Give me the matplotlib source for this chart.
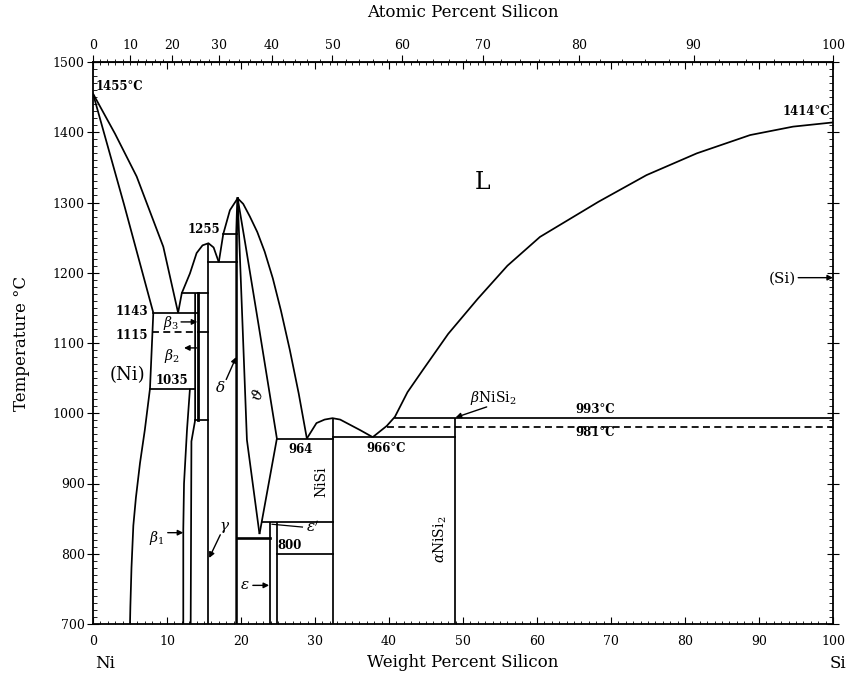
import numpy as np
import matplotlib.pyplot as plt
from matplotlib.ticker import MultipleLocator, FixedLocator

plt.rcParams['font.family'] = 'DejaVu Serif'
plt.rcParams['mathtext.fontset'] = 'dejavuserif'

# ---- phase boundaries (wt% Si, deg C) ----
liq_ni_w = [0, 2.97, 5.9, 9.5, 11.5]
liq_ni_t = [1455, 1398, 1337, 1237, 1143]
sol_ni_w = [0, 4.2, 8.15]
sol_ni_t = [1455, 1297, 1143]
solvus_ni_w = [8.15, 7.7, 7.0, 6.35, 5.8, 5.45, 5.2, 5.05, 5.0]
solvus_ni_t = [1143, 1035, 976, 929, 880, 840, 780, 725, 700]

liq_gam_w = [11.5, 12.0, 13.1, 14.0, 14.8, 15.6, 16.3, 17.0]
liq_gam_t = [1143, 1171, 1199, 1228, 1239, 1242, 1236, 1215]
liq_del_w = [17.0, 17.6, 18.5, 19.55]
liq_del_t = [1215, 1255, 1289, 1306]
liq_theta_w = [19.55, 20.3, 21.2, 22.2, 23.2, 24.3, 25.4, 26.6, 27.8, 28.9]
liq_theta_t = [1306, 1298, 1280, 1258, 1230, 1192, 1146, 1090, 1028, 964]

beta1_left_w = [13.1, 12.7, 12.3, 12.2, 12.2]
beta1_left_t = [1035, 976, 900, 834, 700]
beta_right_w = [13.8, 13.8, 13.3, 13.2]
beta_right_t = [1171, 990, 960, 700]
beta_band_w = [14.25, 14.25]
beta_band_t = [1171, 990]

gamma_w = [15.6, 15.6]
gamma_t = [1242, 700]
delta_w = [19.55, 19.4, 19.4]
delta_t = [1306, 1255, 700]
theta_left_w = [19.55, 20.2, 20.8, 22.5]
theta_left_t = [1306, 1128, 962, 828]
theta_right_w = [19.55, 20.6, 22.34, 24.85, 22.5]
theta_right_t = [1306, 1240, 1128, 964, 828]

eps_w = [23.9, 24.8]
eps_top = 845
nisi_w = 32.37
nisi2_w = 48.9
dome_w = [28.9, 30.2, 31.3, 32.37, 33.4, 34.3, 36.1, 37.8]
dome_t = [964, 986, 991, 993, 991, 986, 976, 966]
liq_si_w = [37.8, 39.7, 40.8, 42.5, 44.6, 48, 52, 56, 60.4, 68.3, 74.8, 81.6, 88.8, 94.6, 100]
liq_si_t = [966, 982, 995, 1030, 1062, 1113, 1163, 1210, 1251, 1301, 1339, 1370, 1396, 1408, 1414]

# invariant lines: (temperature, wt start, wt end)
iso_t = [1171, 1143, 1115, 1035, 990, 1255, 1215, 964, 966, 845, 823, 800, 993]
iso_w0 = [12.0, 8.15, 14.2, 7.7, 13.8, 17.6, 15.6, 24.85, 32.37, 22.8, 19.4, 24.8, 40.8]
iso_w1 = [15.6, 14.2, 15.6, 13.8, 15.6, 19.4, 19.4, 32.37, 48.9, 32.37, 23.9, 32.37, 100]
dash_t = [1115, 981]
dash_w0 = [8.0, 39.7]
dash_w1 = [14.2, 100]

M_NI, M_SI = 58.6934, 28.0855


def wt2at(w):
    w = np.clip(np.asarray(w, dtype=float), 0, 100)
    a = w / M_SI
    return 100 * a / (a + (100 - w) / M_NI)


def at2wt(a):
    a = np.clip(np.asarray(a, dtype=float), 0, 100)
    m = a * M_SI
    return 100 * m / (m + (100 - a) * M_NI)


fig = plt.figure(figsize=(8.52, 6.77), dpi=100)
ax = fig.add_axes([93 / 852, 1 - 624 / 677, 740 / 852, 562 / 677])
ax.set_xlim(0, 100)
ax.set_ylim(700, 1500)

LW = 1.25
kw = dict(color='k', lw=LW, solid_capstyle='butt')
for w, t in [(liq_ni_w, liq_ni_t), (sol_ni_w, sol_ni_t), (solvus_ni_w, solvus_ni_t),
             (liq_gam_w, liq_gam_t), (liq_del_w, liq_del_t), (liq_theta_w, liq_theta_t),
             (beta1_left_w, beta1_left_t), (beta_right_w, beta_right_t),
             (gamma_w, gamma_t), (theta_left_w, theta_left_t),
             (theta_right_w, theta_right_t), (dome_w, dome_t), (liq_si_w, liq_si_t)]:
    ax.plot(w, t, **kw)
ax.plot(beta_band_w, beta_band_t, color='k', lw=2.0)
ax.plot(delta_w, delta_t, color='k', lw=1.8)
for w in eps_w:
    ax.plot([w, w], [eps_top, 700], **kw)
ax.plot([nisi_w, nisi_w], [993, 700], **kw)
ax.plot([nisi2_w, nisi2_w], [993, 700], **kw)
for t, a, b in zip(iso_t, iso_w0, iso_w1):
    ax.plot([a, b], [t, t], color='k', lw=1.9 if t == 823 else LW)
for t, a, b in zip(dash_t, dash_w0, dash_w1):
    ax.plot([a, b], [t, t], color='k', lw=LW, ls=(0, (4, 2.5)))

# ---- labels ----
bold = dict(fontsize=8.5, fontweight='bold', color='k')
ax.text(0.3, 1465, '1455°C', ha='left', va='center', **bold)
ax.text(99.6, 1429, '1414°C', ha='right', va='center', **bold)
ax.text(52.7, 1328, 'L', ha='center', va='center', fontsize=17)
ax.text(17.25, 1261, '1255', ha='right', va='center', **bold)
ax.text(7.4, 1145, '1143', ha='right', va='center', **bold)
ax.text(7.4, 1110, '1115', ha='right', va='center', **bold)
ax.text(8.4, 1047, '1035', ha='left', va='center', **bold)
ax.text(4.6, 1054, '(Ni)', ha='center', va='center', fontsize=13)
ax.text(28.0, 948, '964', ha='center', va='center', **bold)
ax.text(39.6, 950, '966°C', ha='center', va='center', **bold)
ax.text(67.8, 1005, '993°C', ha='center', va='center', **bold)
ax.text(67.8, 972, '981°C', ha='center', va='center', **bold)
ax.text(26.6, 812, '800', ha='center', va='center', **bold)
ax.text(30.9, 903, 'NiSi', rotation=90, ha='center', va='center', fontsize=10)
ax.text(46.9, 820, r'$\alpha$NiSi$_2$', rotation=90, ha='center', va='center', fontsize=10)
ax.text(54.1, 1022, r'$\beta$NiSi$_2$', ha='center', va='center', fontsize=10)
ax.text(93.2, 1192, '(Si)', ha='center', va='center', fontsize=11)
ax.text(10.5, 1128, r'$\beta_3$', ha='center', va='center', fontsize=10)
ax.text(10.7, 1082, r'$\beta_2$', ha='center', va='center', fontsize=10)
ax.text(8.65, 822, r'$\beta_1$', ha='center', va='center', fontsize=10)
ax.text(17.2, 1036, r'$\delta$', ha='center', va='center', fontsize=11)
ax.text(22.3, 1026, r'$\vartheta$', ha='center', va='center', fontsize=11, rotation=70)
ax.text(17.8, 838, r'$\gamma$', ha='center', va='center', fontsize=11)
ax.text(20.5, 755, r'$\varepsilon$', ha='center', va='center', fontsize=11)
ax.text(29.7, 838, r"$\varepsilon'$", ha='center', va='center', fontsize=11)

arr = dict(arrowstyle='-|>', color='k', lw=1.0, mutation_scale=8, shrinkA=0, shrinkB=0)
ax.annotate('', xy=(14.1, 1130), xytext=(11.9, 1130), arrowprops=arr)
ax.annotate('', xy=(12.3, 1093), xytext=(14.0, 1093), arrowprops=arr)
ax.annotate('', xy=(19.35, 1080), xytext=(18.0, 1048), arrowprops=arr)
ax.annotate('', xy=(12.2, 830), xytext=(10.1, 830), arrowprops=arr)
ax.annotate('', xy=(15.7, 794), xytext=(17.2, 827), arrowprops=arr)
ax.annotate('', xy=(23.8, 755), xytext=(21.6, 755), arrowprops=arr)
ax.annotate('', xy=(49.0, 994), xytext=(53.2, 1009), arrowprops=arr)
ax.annotate('', xy=(100, 1193), xytext=(95.3, 1193), arrowprops=arr)
ax.plot([28.3, 24.2], [838, 842], color='k', lw=0.9)

# ---- axes, ticks ----
ax.set_xticks(np.arange(0, 101, 10))
ax.set_yticks(np.arange(700, 1501, 100))
ax.xaxis.set_minor_locator(MultipleLocator(1))
ax.yaxis.set_minor_locator(MultipleLocator(10))
ax.tick_params(axis='x', which='both', direction='in', top=True, labelsize=9, pad=8)
ax.tick_params(axis='x', which='major', length=5)
ax.tick_params(axis='x', which='minor', length=2.5)
ax.tick_params(axis='y', which='major', direction='inout', right=True, length=8, labelsize=9, pad=2)
ax.tick_params(axis='y', which='minor', direction='in', right=True, length=3)
for s in ax.spines.values():
    s.set_linewidth(1.3)

sec = ax.secondary_xaxis('top', functions=(wt2at, at2wt))
sec.set_xticks(np.arange(0, 101, 10))
sec.xaxis.set_minor_locator(FixedLocator(np.arange(0, 101, 2)))
sec.tick_params(which='major', direction='out', length=5, labelsize=9, pad=2)
sec.tick_params(which='minor', direction='out', length=2)
sec.set_xlabel('Atomic Percent Silicon', fontsize=12, labelpad=16)

ax.set_xlabel('Weight Percent Silicon', fontsize=12, labelpad=4)
ax.set_ylabel('Temperature °C', fontsize=12, labelpad=16)
fig.text(105 / 852, 1 - 664 / 677, 'Ni', ha='center', va='center', fontsize=12)
fig.text(838 / 852, 1 - 664 / 677, 'Si', ha='center', va='center', fontsize=12)

fig.savefig('out.png', dpi=100)
